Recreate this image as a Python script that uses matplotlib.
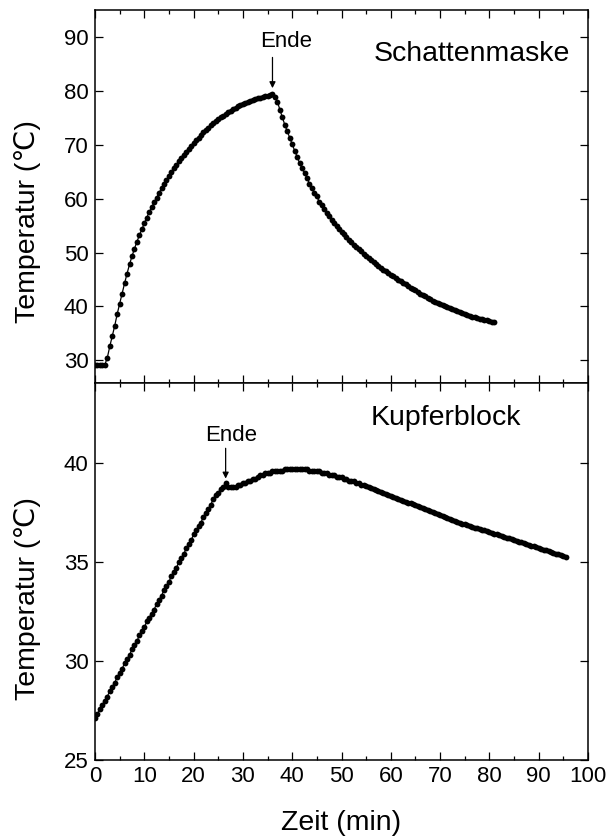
import numpy as np
import matplotlib
matplotlib.use("Agg")
import matplotlib.pyplot as plt
from matplotlib.ticker import MultipleLocator

plt.rcParams['font.family'] = ['Liberation Sans', 'DejaVu Sans']

# Sampling interval of both measurements (min)
dt = 0.5

# Schattenmaske temperature (°C), one value every 0.5 min from t = 0
schatten_T = [
    29.2, 29.2, 29.2, 29.2, 29.2, 30.5, 32.6, 34.5, 36.4, 38.6,
    40.5, 42.4, 44.3, 46.1, 47.8, 49.3, 50.7, 52.0, 53.2, 54.3,
    55.4, 56.5, 57.5, 58.4, 59.3, 60.2, 61.1, 61.9, 62.7, 63.4,
    64.2, 64.9, 65.6, 66.3, 66.9, 67.5, 68.1, 68.7, 69.3, 69.8,
    70.3, 70.8, 71.3, 71.8, 72.3, 72.8, 73.2, 73.6, 74.0, 74.4,
    74.8, 75.1, 75.4, 75.7, 76.0, 76.3, 76.6, 76.9, 77.1, 77.3,
    77.5, 77.7, 77.9, 78.1, 78.3, 78.4, 78.6, 78.7, 78.9, 79.0,
    79.1, 79.3, 79.5,
    78.9, 78.0, 76.5, 75.1, 73.7, 72.5, 71.3, 70.1, 68.9, 67.8,
    66.6, 65.6, 64.8, 63.8, 62.8, 61.9, 61.1, 60.4, 59.4, 58.8,
    58.1, 57.4, 56.8, 56.1, 55.5, 54.9, 54.4, 53.9, 53.4, 52.9,
    52.4, 51.9, 51.4, 51.0, 50.6, 50.2, 49.8, 49.4, 49.0, 48.6,
    48.2, 47.9, 47.5, 47.2, 46.8, 46.5, 46.2, 45.9, 45.6, 45.3,
    45.0, 44.7, 44.4, 44.1, 43.8, 43.5, 43.2, 43.0, 42.7, 42.4,
    42.1, 41.9, 41.6, 41.4, 41.1, 40.9, 40.7, 40.5, 40.3, 40.1,
    39.9, 39.7, 39.5, 39.3, 39.1, 38.9, 38.7, 38.6, 38.4, 38.3,
    38.1, 38.0, 37.8, 37.7, 37.6, 37.5, 37.4, 37.3, 37.2, 37.1,
]

# Kupferblock temperature (°C), one value every 0.5 min from t = 0
kupfer_T = [
    27.1, 27.3, 27.6, 27.8, 28.0, 28.2, 28.5, 28.7, 28.9, 29.2,
    29.4, 29.6, 29.9, 30.1, 30.3, 30.6, 30.8, 31.0, 31.3, 31.5,
    31.7, 32.0, 32.2, 32.4, 32.6, 32.9, 33.1, 33.3, 33.6, 33.8,
    34.0, 34.3, 34.5, 34.7, 35.0, 35.2, 35.4, 35.7, 35.9, 36.1,
    36.4, 36.6, 36.8, 37.0, 37.3, 37.5, 37.7, 37.9, 38.2, 38.4,
    38.5, 38.7, 38.8, 39.0, 38.8, 38.8, 38.8, 38.8, 38.9, 38.9,
    39.0, 39.0, 39.1, 39.1, 39.2, 39.2, 39.3, 39.4, 39.4, 39.5,
    39.5, 39.5, 39.6, 39.6, 39.6, 39.6, 39.6, 39.7, 39.7, 39.7,
    39.7, 39.7, 39.7, 39.7, 39.7, 39.7, 39.7, 39.6, 39.6, 39.6,
    39.6, 39.6, 39.5, 39.5, 39.5, 39.4, 39.4, 39.4, 39.3, 39.3,
    39.3, 39.2, 39.2, 39.1, 39.1, 39.1, 39.0, 39.0, 38.9, 38.9,
    38.85, 38.8, 38.75, 38.7, 38.65, 38.6, 38.55, 38.5, 38.45, 38.4,
    38.35, 38.3, 38.25, 38.2, 38.15, 38.1, 38.05, 38.0, 38.0, 37.95,
    37.9, 37.85, 37.8, 37.75, 37.7, 37.65, 37.6, 37.55, 37.5, 37.45,
    37.4, 37.35, 37.3, 37.25, 37.2, 37.15, 37.1, 37.05, 37.0, 36.95,
    36.9, 36.85, 36.8, 36.75, 36.7, 36.7, 36.65, 36.6, 36.6, 36.55,
    36.5, 36.45, 36.4, 36.4, 36.35, 36.3, 36.25, 36.2, 36.2, 36.15,
    36.1, 36.05, 36.0, 36.0, 35.95, 35.9, 35.85, 35.8, 35.8, 35.75,
    35.7, 35.65, 35.6, 35.6, 35.55, 35.5, 35.45, 35.4, 35.4, 35.35,
    35.3, 35.25,
]

schatten_t = np.arange(len(schatten_T)) * dt
kupfer_t = np.arange(len(kupfer_T)) * dt

# Annotation points (min, °C)
ende_top = (36.0, 79.5)
ende_bot = (26.5, 39.0)

x_ticks = [0, 10, 20, 30, 40, 50, 60, 70, 80, 90, 100]
top_yticks = [30, 40, 50, 60, 70, 80, 90]
bot_yticks = [25, 30, 35, 40]

fig = plt.figure(figsize=(6.07, 8.36), dpi=100)
ax1 = fig.add_axes([95/607, 1-383/836, 493/607, 373/836])
ax2 = fig.add_axes([95/607, 1-760/836, 493/607, 377/836], sharex=ax1)

for ax, t, T in ((ax1, schatten_t, schatten_T), (ax2, kupfer_t, kupfer_T)):
    ax.plot(t, T, '-o', color='black', lw=0.9, ms=4.2, mew=0)
    ax.set_xlim(0, 100)
    ax.xaxis.set_major_locator(MultipleLocator(10))
    ax.xaxis.set_minor_locator(MultipleLocator(5))
    ax.tick_params(which='both', direction='in', top=True, right=True,
                   width=0.9, labelsize=16, pad=4.5)
    ax.tick_params(which='major', length=5.5)
    ax.tick_params(which='minor', length=3)
    for s in ax.spines.values():
        s.set_linewidth(1.1)

ax1.set_ylim(25.8, 95)
ax1.set_yticks(top_yticks)
ax1.tick_params(labelbottom=False)
ax2.set_ylim(25, 44.05)
ax2.set_yticks(bot_yticks)
ax2.set_xticks(x_ticks)

lab_fs = 20.5
for ax, yfrac in ((ax1, 0.434), (ax2, 0.428)):
    ax.set_ylabel('Temperatur (℃)', fontsize=lab_fs)
    ax.yaxis.set_label_coords(-0.136, yfrac)
    ax.yaxis.label.set_va('center')

ax2.set_xlabel('Zeit (min)', fontsize=lab_fs)
ax2.xaxis.set_label_coords(0.5, -0.168)
ax2.xaxis.label.set_va('center')

ax1.text(96.3, 86.9, 'Schattenmaske', fontsize=lab_fs, ha='right', va='center')
ax2.text(71.2, 42.27, 'Kupferblock', fontsize=lab_fs, ha='center', va='center')

arrow = dict(arrowstyle='-|>', color='black', lw=0.9, mutation_scale=9,
             shrinkA=0, shrinkB=0)
ax1.annotate('', xy=(ende_top[0], ende_top[1] + 1.0), xytext=(ende_top[0], 86.2),
             arrowprops=arrow)
ax1.text(38.7, 89.1, 'Ende', fontsize=16, ha='center', va='center')
ax2.annotate('', xy=(ende_bot[0], ende_bot[1] + 0.22), xytext=(ende_bot[0], 40.75),
             arrowprops=arrow)
ax2.text(27.7, 41.4, 'Ende', fontsize=16, ha='center', va='center')

fig.savefig('out.png', dpi=100)
